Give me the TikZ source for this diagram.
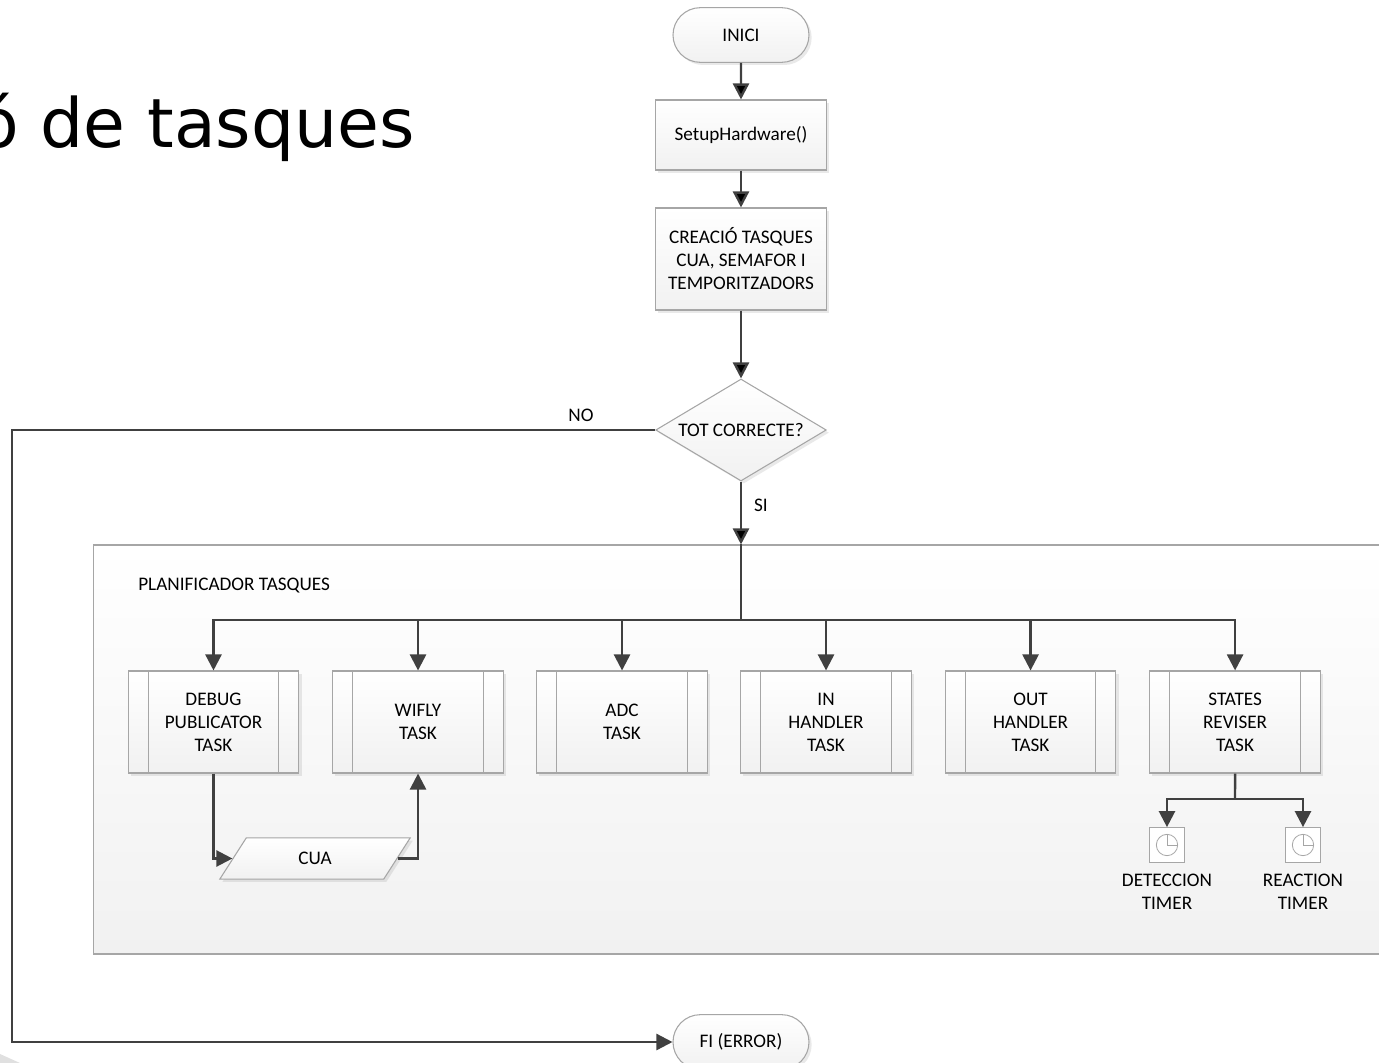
\documentclass[tikz,border=0pt]{standalone}
\usepackage{fontspec}
\setmainfont{Carlito}
\newfontfamily\titlefont{DejaVu Sans}
\usetikzlibrary{arrows.meta,shadows,shapes.geometric,shapes.misc}
\definecolor{linegrey}{HTML}{404040}
\definecolor{edgegrey}{HTML}{A6A6A6}
\definecolor{fillgrey}{HTML}{F1F1F1}
\tikzset{
  >={Triangle[length=12pt,width=12pt]},
  softshadow/.style={drop shadow={shadow xshift=2pt,shadow yshift=-2pt,opacity=.14,fill=black!60}},
  flowbox/.style={draw=edgegrey,line width=.8pt,top color=white,bottom color=fillgrey,align=center,
    font=\fontsize{14.4}{17.25}\selectfont,inner sep=0pt,softshadow},
  termbox/.style={flowbox,rounded rectangle,minimum width=102pt,minimum height=41pt},
  procbox/.style={flowbox,rectangle,minimum width=128pt},
  checkbox/.style={flowbox,diamond,aspect=1.68,minimum width=128pt,minimum height=76.5pt},
  taskbox/.style={flowbox,rectangle,minimum width=128pt,minimum height=76.5pt,
    path picture={
      \draw[edgegrey,line width=.8pt] ([xshift=15pt]path picture bounding box.north west) -- ([xshift=15pt]path picture bounding box.south west);
      \draw[edgegrey,line width=.8pt] ([xshift=-15pt]path picture bounding box.north east) -- ([xshift=-15pt]path picture bounding box.south east);
    }},
  queuebox/.style={flowbox,trapezium,trapezium left angle=63,trapezium right angle=117,
    minimum width=143pt,minimum height=31pt,trapezium stretches=true},
  timerbox/.style={draw=edgegrey,line width=.8pt,fill=white,rectangle,minimum size=26pt,inner sep=0pt,
    path picture={
      \draw[edgegrey,line width=.6pt] (path picture bounding box.center) circle (8pt);
      \draw[edgegrey,line width=.6pt] ([yshift=8pt]path picture bounding box.center) -- (path picture bounding box.center) -- ([xshift=8pt]path picture bounding box.center);
    }},
  plain/.style={font=\fontsize{14.4}{17.25}\selectfont,align=center,inner sep=0pt},
  flow/.style={draw=linegrey,line width=1.8pt}
}
\begin{document}
\begin{tikzpicture}[x=0.75pt,y=-0.75pt]
  \useasboundingbox (0,0) rectangle (1379,1063);
  \fill[black!12] (0,1054) -- (20,1063) -- (0,1063) -- cycle;
  \node (title) [anchor=base east,inner sep=0pt,font=\titlefont\fontsize{51}{60}\selectfont] at (415,147) {ó de tasques};
  % panel runs past the page edge
  \node (panel) [rectangle,draw=edgegrey,line width=.8pt,top color=white,bottom color=fillgrey,
    minimum width=985pt,minimum height=306.75pt,inner sep=0pt] at (750,749.5) {};
  \node (plan) [plain,anchor=west] at (138,586) {PLANIFICADOR TASQUES};

  \node (inici) [termbox] at (741,35) {INICI};
  \node (setup) [procbox,minimum height=52.5pt] at (741,135) {SetupHardware()};
  \node (create) [procbox,minimum height=76.5pt] at (741,259) {CREACIÓ TASQUES\\CUA, SEMAFOR I\\TEMPORITZADORS};
  \node (check) [checkbox] at (741,430) {TOT CORRECTE?};
  \node (fi) [termbox] at (741,1042) {FI (ERROR)};

  \node (debug) [taskbox] at (213.5,722) {DEBUG\\PUBLICATOR\\TASK};
  \node (wifly) [taskbox,right of=debug,node distance=153.4pt] {WIFLY\\TASK};
  \node (adc) [taskbox,right of=wifly,node distance=153pt] {ADC\\TASK};
  \node (inh) [taskbox,right of=adc,node distance=153pt] {IN\\HANDLER\\TASK};
  \node (outh) [taskbox,right of=inh,node distance=153.4pt] {OUT\\HANDLER\\TASK};
  \node (states) [taskbox,right of=outh,node distance=153.4pt] {STATES\\REVISER\\TASK};

  \node (cua) [queuebox] at (315,858.5) {CUA};
  \node (dtimer) [timerbox] at (1167,845) {};
  \node (rtimer) [timerbox] at (1303,845) {};
  \node (dlabel) [plain] at (1167,891.5) {DETECCION\\TIMER};
  \node (rlabel) [plain] at (1303,891.5) {REACTION\\TIMER};

  \coordinate (bus) at (741,620);
  \coordinate (tbus) at (1235,799);
  \coordinate (corner) at (12,430);

  \path[->,flow] (inici) edge (setup)
            (setup) edge (create)
            (create) edge (check)
            (check) edge (check |- panel.north);
  \draw[flow] (check |- panel.north) -- (bus);
  \draw[->,flow] (bus) -| (debug.north);
  \draw[->,flow] (bus) -| (wifly.north);
  \draw[->,flow] (bus) -| (adc.north);
  \draw[->,flow] (bus) -| (inh.north);
  \draw[->,flow] (bus) -| (outh.north);
  \draw[->,flow] (bus) -| (states.north);
  \draw[->,flow] (debug.south) |- (cua.west);
  \draw[->,flow] (cua.east) -| (wifly.south);
  \draw[flow] (states.south) -- (tbus);
  \draw[->,flow] (tbus) -| (dtimer.north);
  \draw[->,flow] (tbus) -| (rtimer.north);
  \draw[->,flow] (check.west) -- (corner) |- (fi.west);

  \node (no) [plain] at (581,415) {NO};
  \node (si) [plain] at (761,505) {SI};
\end{tikzpicture}
\end{document}
